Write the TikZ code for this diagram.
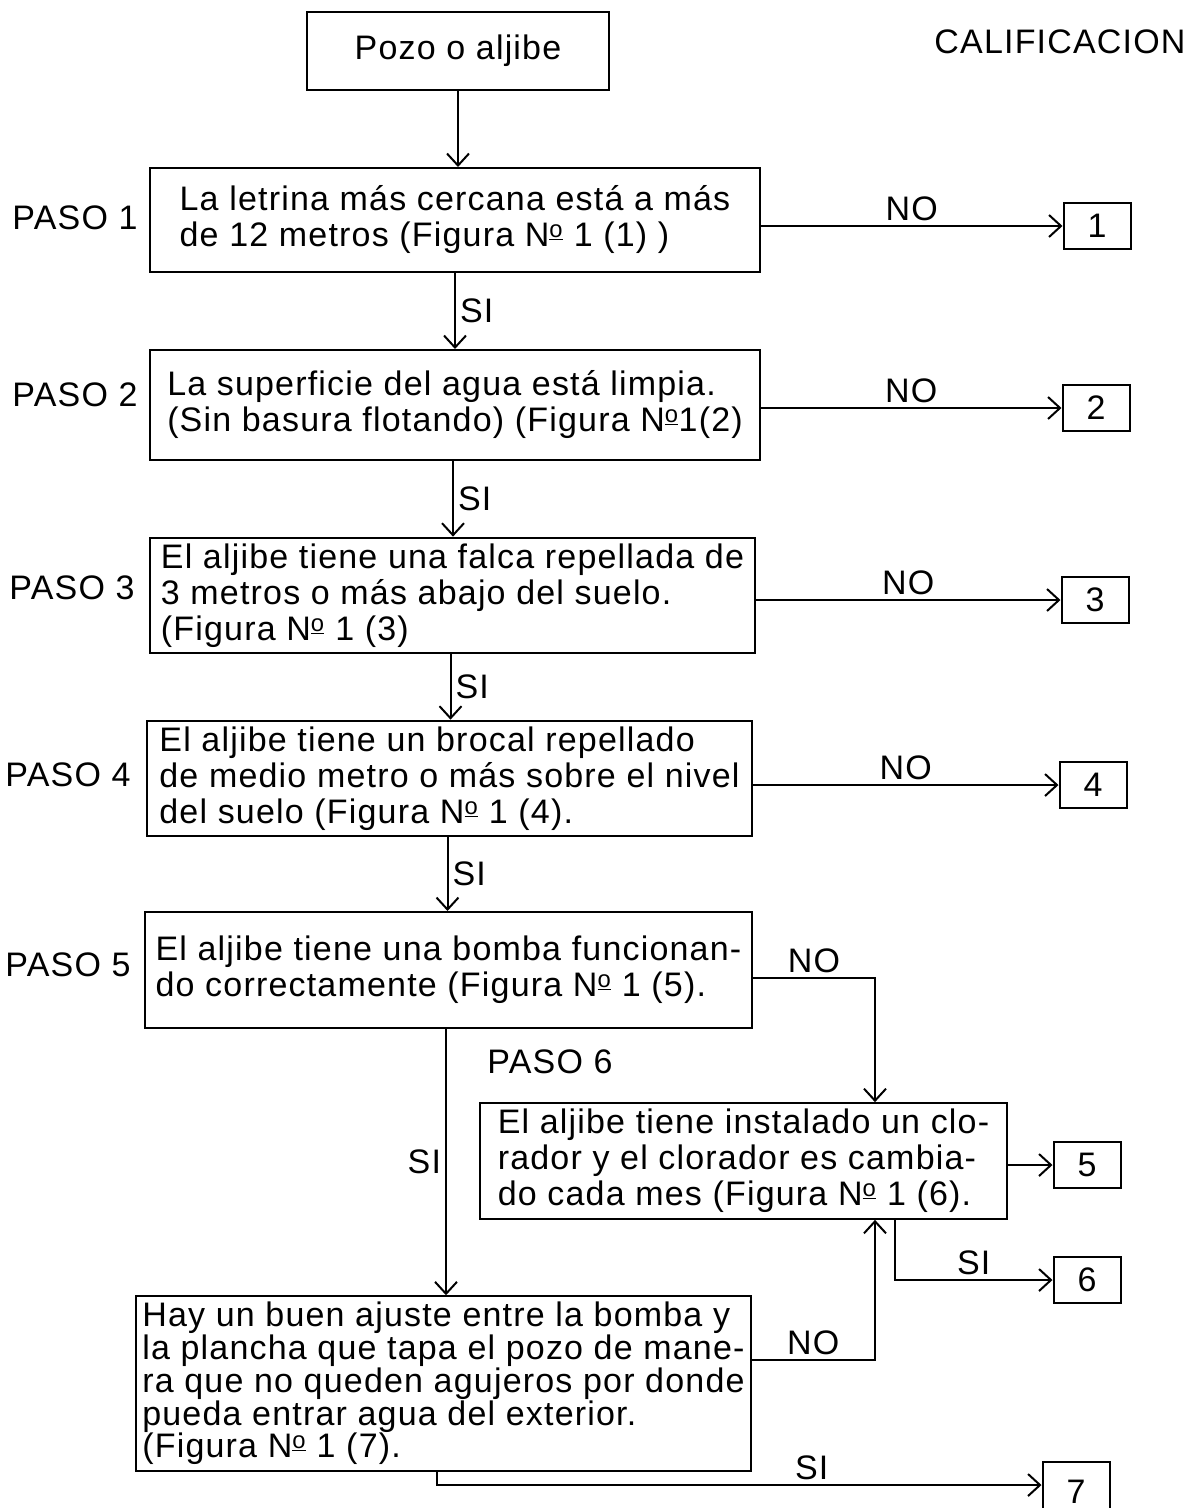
\documentclass[tikz,border=0pt]{standalone}
\usepackage{fontspec}
\setmainfont[LetterSpace=3.5]{Liberation Sans}
\usepackage{tikz}
\usetikzlibrary{arrows.meta,positioning,calc}
\newcommand{\nro}{N\textsuperscript{\underline{o}}}

\begin{document}
\begin{tikzpicture}[x=1pt, y=-1pt, line width=2pt, >={Straight Barb[length=12pt,width=22pt]},
  font=\fontsize{34}{36}\selectfont]
\tikzstyle{caja}=[draw, align=left, inner sep=6pt]
\tikzstyle{nota}=[draw, minimum width=67pt, minimum height=46pt]
\tikzstyle{lbl}=[inner sep=4pt]
\useasboundingbox (0,0) rectangle (1188,1508);
\node[caja, minimum width=302pt, minimum height=78pt] (pozo) at (458,51) {Pozo o aljibe};
\node[lbl] (calif) at (1060,42) {CALIFICACION};
\node[caja, minimum width=610pt, minimum height=104pt] (b1) at (455,220)
  {La letrina más cercana está a más\\de 12 metros (Figura \nro\ 1 (1) )};
\node[caja, minimum width=610pt, minimum height=110pt] (b2) at (455,405)
  {La superficie del agua está limpia.\\(Sin basura flotando) (Figura \nro1(2)};
\node[caja, minimum width=605pt, minimum height=115pt] (b3) at (452.5,595.5)
  {El aljibe tiene una falca repellada de\\3 metros o más abajo del suelo.\\(Figura \nro\ 1 (3)};
\node[caja, minimum width=605pt, minimum height=113pt] (b4) at (449.5,778.5)
  {El aljibe tiene un brocal repellado\\de medio metro o más sobre el nivel\\del suelo (Figura \nro\ 1 (4).};
\node[caja, minimum width=607pt, minimum height=116pt] (b5) at (448.5,970)
  {El aljibe tiene una bomba funcionan-\\do correctamente (Figura \nro\ 1 (5).};
\node[caja, minimum width=527pt, minimum height=110pt] (b6) at (743.5,1161)
  {El aljibe tiene instalado un clo-\\rador y el clorador es cambia-\\do cada mes (Figura \nro\ 1 (6).};
\node[caja, minimum width=613pt, minimum height=173pt, font=\fontsize{34}{31}\selectfont] (b7) at (443.5,1383.5)
  {Hay un buen ajuste entre la bomba y\\la plancha que tapa el pozo de mane-\\ra que no queden agujeros por donde\\pueda entrar agua del exterior.\\(Figura \nro\ 1 (7).};
\node[lbl] (p1) at (75,218) {PASO 1};
\node[lbl] (p2) at (75,395) {PASO 2};
\node[lbl] (p3) at (72,588) {PASO 3};
\node[lbl] (p4) at (68,775) {PASO 4};
\node[lbl] (p5) at (68,965) {PASO 5};
\node[lbl] (p6) at (550,1062) {PASO 6};
\node[nota] (s1) at (1097,226) {1};
\node[nota] (s2) at (1096,408) {2};
\node[nota] (s3) at (1095,600) {3};
\node[nota] (s4) at (1093,785) {4};
\node[nota] (s5) at (1087,1165) {5};
\node[nota] (s6) at (1087,1280) {6};
\node[nota, minimum height=60pt] (s7) at (1076,1492) {7};
\draw[->] (pozo.south) -- (pozo.south |- b1.north);
\draw[->] (b1.south) -- node[right, lbl]{SI} (b1.south |- b2.north);
\draw[->] ([xshift=-2pt]b2.south) -- node[right, lbl]{SI} ([xshift=-2pt]b2.south |- b3.north);
\draw[->] ([xshift=-2pt]b3.south) -- node[right, lbl]{SI} ([xshift=-2pt]b3.south |- b4.north);
\draw[->] ([xshift=-2pt]b4.south) -- node[right, lbl]{SI} ([xshift=-2pt]b4.south |- b5.north);
\draw[->] (b1.east |- s1.west) -- node[above, lbl]{NO} (s1.west);
\draw[->] (b2.east |- s2.west) -- node[above, lbl]{NO} (s2.west);
\draw[->] (b3.east |- s3.west) -- node[above, lbl]{NO} (s3.west);
\draw[->] (b4.east |- s4.west) -- node[above, lbl]{NO} (s4.west);
\draw[->] ([yshift=-8pt]b5.east) -| ([xshift=131.5pt]b6.north) node[pos=.25, above, lbl]{NO};
\draw[->] ([xshift=-2.5pt]b5.south) -- node[left, lbl]{SI} ([xshift=-2.5pt]b5.south |- b7.north);
\draw[->] (b6.east |- s5.west) -- (s5.west);
\draw[->] ([xshift=151.5pt]b6.south) |- (s6.west) node[pos=.75, above, lbl]{SI};
\draw[->] ([yshift=23.5pt]b7.east) -| ([xshift=131.5pt]b6.south) node[pos=.25, above, lbl]{NO};
\draw[->] ([xshift=-6.5pt]b7.south) |- ([yshift=7pt]s7.west) node[pos=.81, above, lbl]{SI};
\end{tikzpicture}
\end{document}
